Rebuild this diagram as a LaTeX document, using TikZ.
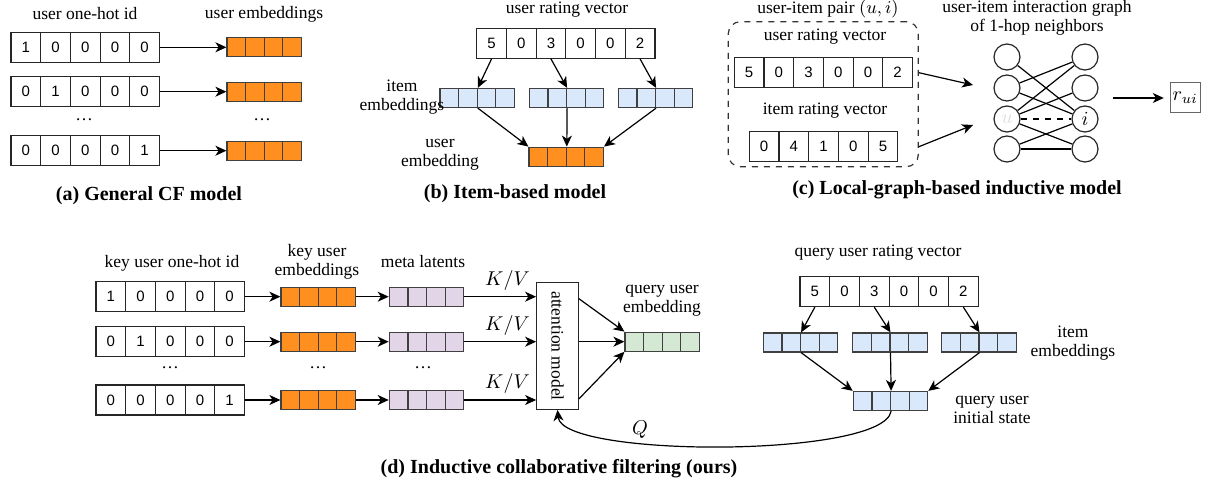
\documentclass[tikz,border=0pt]{standalone}
\usepackage{fontspec}
\setmainfont{Liberation Serif}
\newfontfamily\digitfont{Liberation Sans}
\usepackage{graphicx}
\usepackage{tikz}
\usetikzlibrary{positioning, arrows.meta, calc}
\usepackage{xcolor}
\definecolor{embor}{RGB}{255,143,31}
\definecolor{embblue}{RGB}{218,232,252}
\definecolor{emblav}{RGB}{225,213,231}
\definecolor{embgreen}{RGB}{213,232,212}

\begin{document}
\begin{tikzpicture}[
  x=0.5pt, y=-0.5pt,
  cell/.style={rectangle, draw=black!85, fill=white, minimum width=14.85pt,
               minimum height=15pt, inner sep=0pt, line width=0.6pt,
               font=\digitfont\fontsize{7.5}{9}\selectfont},
  emb/.style={rectangle, draw=black!75, fill=#1, minimum width=9.3pt,
              minimum height=9.5pt, inner sep=0pt, line width=0.6pt},
  lbl/.style={font=\fontsize{8.75}{9.5}\selectfont, align=center, inner sep=0pt},
  mlbl/.style={font=\fontsize{10}{12}\selectfont, inner sep=0pt},
  caption/.style={font=\bfseries\fontsize{10}{12}\selectfont, inner sep=0pt},
  arrow/.style={-{Stealth[length=5.5pt, width=5pt, inset=1.6pt]}, line width=0.6pt},
  gnode/.style={circle, draw=black!85, minimum size=13pt, inner sep=0pt,
                line width=0.6pt, font=\fontsize{10}{12}\selectfont}
]
\useasboundingbox (0,0) rectangle (1206,486);

% ==================== (a) GENERAL CF ====================
\node[lbl] (alid) at (85,14) {user one-hot id};
\node[lbl] (alemb) at (264,14) {user embeddings};

\foreach \v [count=\k] in {1,0,0,0,0}
  \node[cell] (aid1-\k) at ({25.85+29.7*(\k-1)}, 47.3) {\v};
\foreach \v [count=\k] in {0,1,0,0,0}
  \node[cell] (aid2-\k) at ({25.85+29.7*(\k-1)}, 91.7) {\v};
\foreach \v [count=\k] in {0,0,0,0,1}
  \node[cell] (aid3-\k) at ({25.85+29.7*(\k-1)}, 150.7) {\v};

\foreach \r/\y in {1/47.3, 2/91.7, 3/150.7}
  \foreach \k in {1,...,4}
    \node[emb=embor] (aemb\r-\k) at ({236.3+18.6*(\k-1)}, \y) {};

\node[lbl] (adots1) at (84,120) {\dots};
\node[lbl] (adots2) at (262,120) {\dots};

\foreach \r in {1,2,3}
  \draw[arrow] (aid\r-5) -- (aemb\r-1);

\node[caption] (acap) at (149,196) {(a) General CF model};

% ==================== (b) ITEM-BASED ====================
\node[lbl] (blr) at (567,10) {user rating vector};
\foreach \v [count=\k] in {5,0,3,0,0,2}
  \node[cell] (br\k) at ({491.55+29.7*(\k-1)}, 43.3) {\v};

\foreach \e/\x in {1/449.3, 2/538.6, 3/627.6}
  \foreach \k in {1,...,4}
    \node[emb=embblue] (bi\e-\k) at ({\x+18.6*(\k-1)}, 98) {};
\foreach \k in {1,...,4}
  \node[emb=embor] (bu-\k) at ({538.3+18.6*(\k-1)}, 156.7) {};

\node[lbl] (bli) at (402,97) {item\\embeddings};
\node[lbl] (blu) at (440,155) {user\\embedding};

\draw[arrow] (br1.south) -- (bi1-2.north east);
\draw[arrow] (br3.south) -- (bi2-2.north east);
\draw[arrow] (br6.south) -- (bi3-2.north east);
\draw[arrow] (bi1-2.south east) -- (bu-1.north west);
\draw[arrow] (bi2-2.south east) -- (bu-2.north east);
\draw[arrow] (bi3-2.south east) -- (bu-4.north east);

\node[caption] (bcap) at (515,194) {(b) Item-based model};

% ==================== (c) LOCAL GRAPH ====================
\node[rectangle, draw=black!80, dashed, rounded corners=6pt, line width=0.6pt,
      minimum width=95pt, minimum height=72.5pt] (pair) at (823.3,94.2) {};
\node[lbl] (clp) at (828,9) {user-item pair $(u,i)$};
\node[lbl] (clu) at (825,37) {user rating vector};
\node[lbl] (cli) at (825,111) {item rating vector};

\foreach \v [count=\k] in {5,0,3,0,0,2}
  \node[cell] (cu\k) at ({749.15+29.7*(\k-1)}, 72.7) {\v};
\foreach \v [count=\k] in {0,4,1,0,5}
  \node[cell] (ci\k) at ({764.15+29.7*(\k-1)}, 146.7) {\v};

\node[lbl] (clg) at (1037,18) {user-item interaction graph\\of 1-hop neighbors};
\foreach \k/\y in {1/57, 2/88, 3/119, 4/149} {
  \node[gnode] (gl\k) at (1007,\y) {};
  \node[gnode] (gr\k) at (1085,\y) {};
}
\node[mlbl, text=gray!25] at (gl3) {$u$};
\node[mlbl] at (gr3) {$i$};

\draw[line width=0.6pt] (gl1) -- (gr3);
\draw[line width=0.6pt] (gl2) -- (gr1);
\draw[line width=0.6pt] (gl2) -- (gr3);
\draw[line width=0.6pt] (gl3) -- (gr1);
\draw[line width=0.6pt] (gl3) -- (gr2);
\draw[line width=0.6pt] (gl3) -- (gr4);
\draw[line width=0.6pt, dashed] (gl3) -- (gr3);
\draw[line width=0.6pt] (gl4) -- (gr3);
\draw[line width=0.6pt] (gl4) -- (gr4);

\coordinate (gin1) at (973,85);
\coordinate (gin2) at (973,125);
\draw[arrow] (pair.east |- cu6) -- (gin1);
\draw[arrow] (pair.east |- ci5) -- (gin2);

\node[rectangle, draw=black!60, line width=0.5pt, minimum size=15pt, inner sep=0pt,
      font=\fontsize{10}{12}\selectfont] (rui) at (1185.3,98) {$r_{ui}$};
\coordinate (gout) at (1113,98);
\draw[arrow, shorten >=3pt] (gout) -- (rui);

\node[caption] (ccap) at (957,190) {(c) Local-graph-based inductive model};

% ==================== (d) INDUCTIVE CF ====================
\node[lbl] (dlid) at (172,263) {key user one-hot id};
\node[lbl] (dlemb) at (317,262) {key user\\embeddings};
\node[lbl] (dlmeta) at (423,262) {meta latents};

\foreach \v [count=\k] in {1,0,0,0,0}
  \node[cell] (did1-\k) at ({110.85+29.7*(\k-1)}, 296.7) {\v};
\foreach \v [count=\k] in {0,1,0,0,0}
  \node[cell] (did2-\k) at ({110.85+29.7*(\k-1)}, 341.7) {\v};
\foreach \v [count=\k] in {0,0,0,0,1}
  \node[cell] (did3-\k) at ({110.85+29.7*(\k-1)}, 400) {\v};

\foreach \r/\y in {1/296.7, 2/341.7, 3/400}
  \foreach \k in {1,...,4} {
    \node[emb=embor] (de\r-\k) at ({290.3+18.6*(\k-1)}, \y) {};
    \node[emb=emblav] (dm\r-\k) at ({398.6+18.6*(\k-1)}, \y) {};
  }

\node[lbl] (ddots1) at (170,368) {\dots};
\node[lbl] (ddots2) at (318,368) {\dots};
\node[lbl] (ddots3) at (423,368) {\dots};

\node[rectangle, draw=black!85, line width=0.6pt, minimum width=20.8pt,
      minimum height=63.3pt, inner sep=0pt, font=\fontsize{8.75}{9.5}\selectfont]
      (att) at (557.5,346) {\rotatebox{-90}{attention model}};

\foreach \r in {1,2,3} {
  \draw[arrow] (did\r-5) -- (de\r-1);
  \draw[arrow] (de\r-4) -- (dm\r-1);
  \draw[arrow] (dm\r-4) -- (dm\r-4 -| att.west)
    node[mlbl, pos=0.6, above=3pt] {$K/V$};
}

\foreach \k in {1,...,4}
  \node[emb=embgreen] (dq-\k) at ({634.3+18.6*(\k-1)}, 341.7) {};
\node[lbl] (dlq) at (662,301) {query user\\embedding};

\draw[arrow] ([yshift=-8.3pt]att.north east) -- (dq-1.north west);
\draw[arrow] (att.east |- dq-1.west) -- (dq-1.west);
\draw[arrow] ([yshift=5.5pt]att.south east) -- (dq-1.south west);

\node[lbl] (dlr) at (878,253) {query user rating vector};
\foreach \v [count=\k] in {5,0,3,0,0,2}
  \node[cell] (qr\k) at ({814.85+29.7*(\k-1)}, 291.5) {\v};

\foreach \e/\x in {1/772.6, 2/862, 3/951}
  \foreach \k in {1,...,4}
    \node[emb=embblue] (qi\e-\k) at ({\x+18.6*(\k-1)}, 342.5) {};
\foreach \k in {1,...,4}
  \node[emb=embblue] (qs-\k) at ({862.6+18.6*(\k-1)}, 401) {};

\node[lbl] (dli) at (1073,343) {item\\embeddings};
\node[lbl] (dls) at (992,410) {query user\\initial state};

\draw[arrow] (qr1.south) -- (qi1-2.north east);
\draw[arrow] (qr3.south) -- (qi2-2.north east);
\draw[arrow] (qr6.south) -- (qi3-2.north east);
\draw[arrow] (qi1-2.south east) -- (qs-1.north west);
\draw[arrow] (qi2-2.south east) -- (qs-2.north east);
\draw[arrow] (qi3-2.south east) -- (qs-4.north east);

\draw[arrow] (qs-2.south east) .. controls (884,458) and (562,458) .. (att.south);
\node[mlbl] (qlbl) at (640,430) {$Q$};

\node[caption] (dcap) at (559,469) {(d) Inductive collaborative filtering (ours)};

\end{tikzpicture}
\end{document}
